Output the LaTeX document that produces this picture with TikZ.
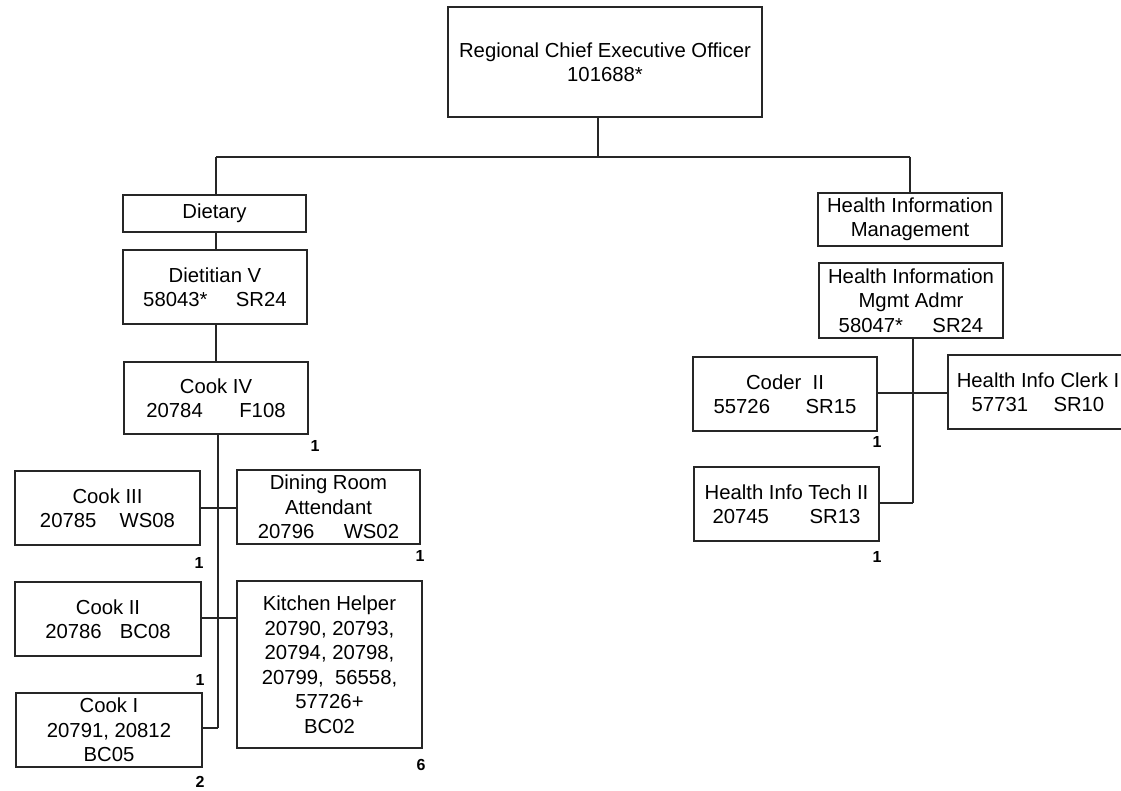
\documentclass[tikz,border=0pt]{standalone}
\usepackage{fontspec}
\setmainfont{Liberation Sans}
\tikzset{
  box/.style={draw=black!85, line width=1.3pt, align=center, inner sep=0pt,
    font=\fontsize{20.3}{24.5}\selectfont},
  conn/.style={draw=black!85, line width=1.1pt},
  cnt/.style={font=\bfseries\fontsize{16}{18}\selectfont, inner sep=0pt}
}
\newcommand{\bx}[6]{% name, x1, y1, x2, y2, text
  \node[box, minimum width={#4-#2}, minimum height={#5-#3}] (#1) at ({(#2+#4)/2},{(#3+#5)/2}) {#6};}
\begin{document}
\begin{tikzpicture}[x=1pt,y=-1pt]
\useasboundingbox (0,0) rectangle (1121,791);
\clip (0,0) rectangle (1121,791);
\fill[white] (0,0) rectangle (1121,791);

% top
\bx{ceo}{448}{7}{762}{117}{Regional Chief Executive Officer\\101688*}

% left branch
\bx{diet}{123}{195}{306}{232}{Dietary}
\bx{dv}{123}{250}{307}{324}{Dietitian V\\58043*\hspace{1.4em}SR24}
\bx{c4}{124}{362}{308}{434}{Cook IV\\20784\hspace{1.8em}F108}
\bx{c3}{15}{471}{200}{545}{Cook III\\20785\hspace{1.15em}WS08}
\bx{dra}{237}{470}{420}{544}{Dining Room\\Attendant\\20796\hspace{1.45em}WS02}
\bx{c2}{15}{582}{201}{656}{Cook II\\20786\hspace{0.9em}BC08}
\bx{kh}{237}{581}{422}{748}{Kitchen Helper\\20790, 20793,\\20794, 20798,\\20799,\ \ 56558,\\57726+\\BC02}
\bx{c1}{16}{693}{202}{767}{Cook I\\20791, 20812\\BC05}

% right branch
\bx{him}{818}{193}{1002}{246}{Health Information\\Management}
\bx{adm}{819}{263}{1003}{338}{Health Information\\Mgmt Admr\\58047*\hspace{1.45em}SR24}
\bx{cod}{693}{357}{877}{431}{Coder\ \ II\\55726\hspace{1.75em}SR15}
\bx{clk}{948}{355}{1128}{429}{Health Info Clerk I\\57731\hspace{1.25em}SR10}
\bx{tec}{694}{467}{879}{541}{Health Info Tech II\\20745\hspace{2em}SR13}

% counts
\node[cnt] (n1) at (315,446) {1};
\node[cnt] (n2) at (199,563) {1};
\node[cnt] (n3) at (420,556) {1};
\node[cnt] (n4) at (200,680) {1};
\node[cnt] (n5) at (421,765) {6};
\node[cnt] (n6) at (200,782) {2};
\node[cnt] (n7) at (877,442) {1};
\node[cnt] (n8) at (877,557) {1};

% connectors
\coordinate (top) at (598,157);
\coordinate (tl) at (216,157);
\coordinate (tr) at (910,157);
\draw[conn] (top |- ceo.south) -- (top);
\draw[conn] (tl) -- (tr);
\draw[conn] (tl) -- (diet.north -| tl);
\draw[conn] (tr) -- (him.north -| tr);
\draw[conn] (diet.south -| tl) -- (dv.north -| tl);
\draw[conn] (dv.south -| tl) -- (c4.north -| tl);

\coordinate (lv) at (218,434);
\coordinate (lb) at (218,728);
\draw[conn] (lv) -- (lb);
\draw[conn] (c3.east |- 0,508) -- (dra.west |- 0,508);
\draw[conn] (c2.east |- 0,618) -- (kh.west |- 0,618);
\draw[conn] (c1.east |- lb) -- (lb);

\coordinate (rv) at (913,338);
\coordinate (rb) at (913,503);
\draw[conn] (rv) -- (rb);
\draw[conn] (cod.east |- 0,393) -- (clk.west |- 0,393);
\draw[conn] (tec.east |- rb) -- (rb);
\end{tikzpicture}
\end{document}
